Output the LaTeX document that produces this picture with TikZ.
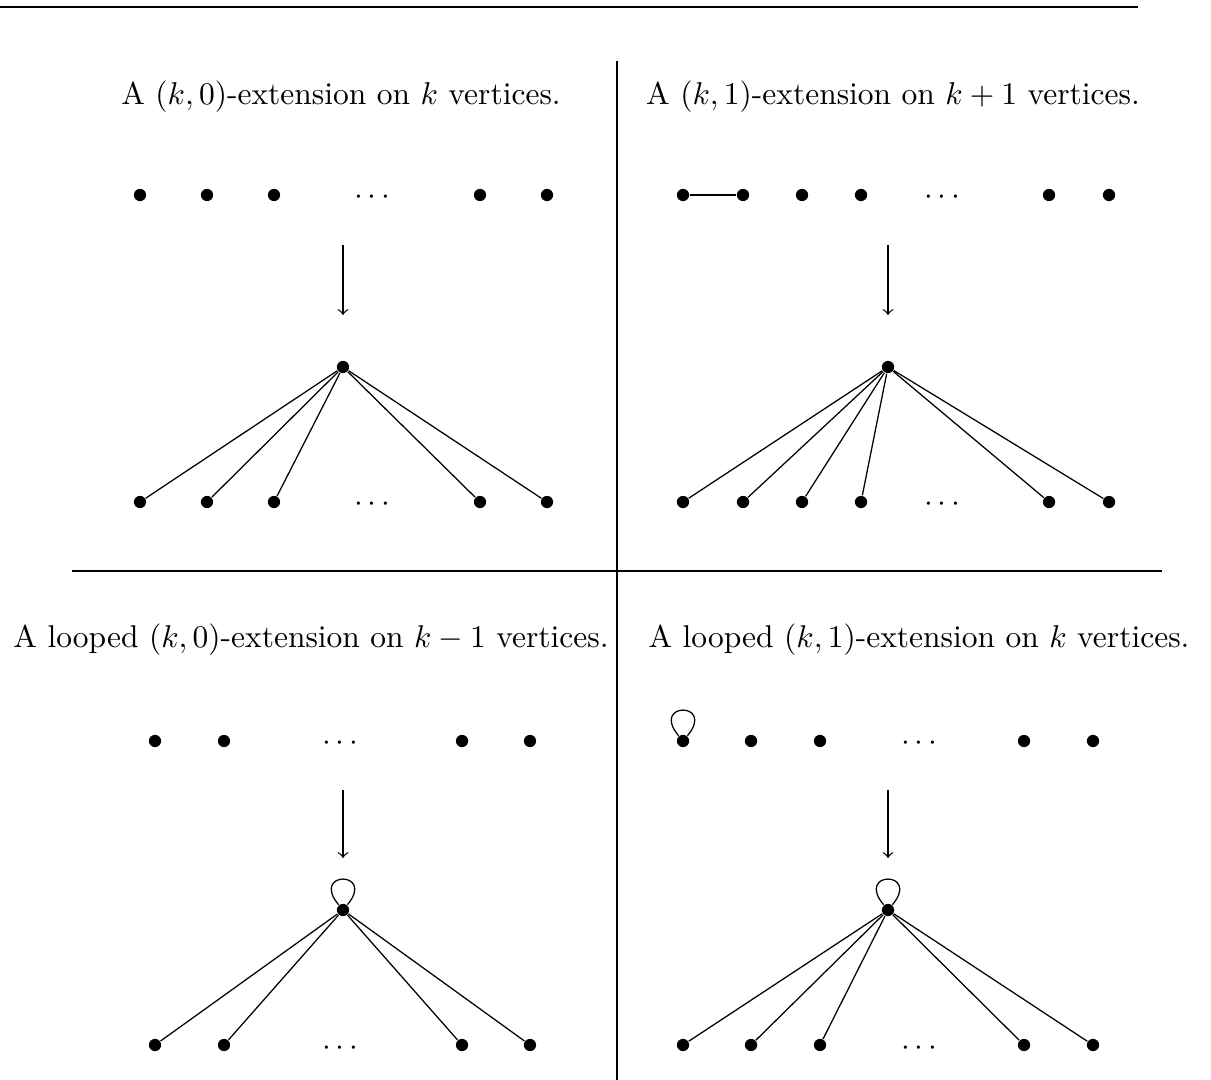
\documentclass[tikz,border=0pt]{standalone}
\usepackage{amsmath}
\usepackage{amssymb}
\usepackage{tikz}
\usetikzlibrary{arrows, positioning}

\begin{document}
\begin{tikzpicture}[
    x=0.3175pt, y=-0.3175pt,
    vertex/.style={circle, fill, inner sep=0pt, minimum size=3.9pt},
    caption/.style={anchor=base, inner sep=0pt},
    gap/.style={inner sep=0pt},
    arrow/.style={->},
    selfloop/.style={out=130, in=50, min distance=5mm}
]
    \useasboundingbox (0,0) rectangle (1211,1080);

    % table rules
    \draw (0,7) -- (1138,7);
    \draw (617,61) -- (617,1080);
    \draw (72,571) -- (1162,571);

    % (k,0)-extension
    \node[caption] (capA) at (341,105) {A $(k,0)$-extension on $k$ vertices.};
    \node[vertex] (a1) at (140,195) {}; \node[vertex] (a2) at (207,195) {};
    \node[vertex] (a3) at (274,195) {}; \node[gap] (adots) at (375,198) {$\cdots$};
    \node[vertex] (a4) at (480,195) {}; \node[vertex] (a5) at (547,195) {};
    \coordinate (aTop) at (343,245);
    \coordinate (aBot) at (343,315);
    \node[vertex] (hubA) at (343,367) {};
    \node[vertex] (b1) at (140,502) {}; \node[vertex] (b2) at (207,502) {};
    \node[vertex] (b3) at (274,502) {}; \node[gap] (bdots) at (375,505) {$\cdots$};
    \node[vertex] (b4) at (480,502) {}; \node[vertex] (b5) at (547,502) {};

    \draw[arrow] (aTop) -- (aBot);
    \draw (hubA) -- (b1);
    \draw (hubA) -- (b2);
    \draw (hubA) -- (b3);
    \draw (hubA) -- (b4);
    \draw (hubA) -- (b5);

    % (k,1)-extension
    \node[caption] (capB) at (893,105) {A $(k,1)$-extension on $k+1$ vertices.};
    \node[vertex] (c1) at (683,195) {}; \node[vertex] (c2) at (743,195) {};
    \node[vertex] (c3) at (802,195) {}; \node[vertex] (c4) at (861,195) {};
    \node[gap] (cdots) at (945,198) {$\cdots$};
    \node[vertex] (c5) at (1049,195) {}; \node[vertex] (c6) at (1109,195) {};
    \coordinate (cTop) at (888,245);
    \coordinate (cBot) at (888,315);
    \node[vertex] (hubB) at (888,367) {};
    \node[vertex] (d1) at (683,502) {}; \node[vertex] (d2) at (743,502) {};
    \node[vertex] (d3) at (802,502) {}; \node[vertex] (d4) at (861,502) {};
    \node[gap] (ddots) at (945,505) {$\cdots$};
    \node[vertex] (d5) at (1049,502) {}; \node[vertex] (d6) at (1109,502) {};

    \draw (c1) -- (c2);
    \draw[arrow] (cTop) -- (cBot);
    \draw (hubB) -- (d1);
    \draw (hubB) -- (d2);
    \draw (hubB) -- (d3);
    \draw (hubB) -- (d4);
    \draw (hubB) -- (d5);
    \draw (hubB) -- (d6);

    % looped (k,0)-extension
    \node[caption] (capC) at (311,648) {A looped $(k,0)$-extension on $k-1$ vertices.};
    \node[vertex] (e1) at (155,741) {}; \node[vertex] (e2) at (224,741) {};
    \node[gap] (edots) at (343,744) {$\cdots$};
    \node[vertex] (e3) at (462,741) {}; \node[vertex] (e4) at (530,741) {};
    \coordinate (eTop) at (343,790);
    \coordinate (eBot) at (343,858);
    \node[vertex] (hubC) at (343,910) {};
    \node[vertex] (f1) at (155,1045) {}; \node[vertex] (f2) at (224,1045) {};
    \node[gap] (fdots) at (343,1048) {$\cdots$};
    \node[vertex] (f3) at (462,1045) {}; \node[vertex] (f4) at (530,1045) {};

    \draw[arrow] (eTop) -- (eBot);
    \draw (hubC) to[selfloop] (hubC);
    \draw (hubC) -- (f1);
    \draw (hubC) -- (f2);
    \draw (hubC) -- (f3);
    \draw (hubC) -- (f4);

    % looped (k,1)-extension
    \node[caption] (capD) at (919,648) {A looped $(k,1)$-extension on $k$ vertices.};
    \node[vertex] (g1) at (683,741) {}; \node[vertex] (g2) at (751,741) {};
    \node[vertex] (g3) at (820,741) {}; \node[gap] (gdots) at (922,744) {$\cdots$};
    \node[vertex] (g4) at (1024,741) {}; \node[vertex] (g5) at (1093,741) {};
    \coordinate (gTop) at (888,790);
    \coordinate (gBot) at (888,858);
    \node[vertex] (hubD) at (888,910) {};
    \node[vertex] (k1) at (683,1045) {}; \node[vertex] (k2) at (751,1045) {};
    \node[vertex] (k3) at (820,1045) {}; \node[gap] (kdots) at (922,1048) {$\cdots$};
    \node[vertex] (k4) at (1024,1045) {}; \node[vertex] (k5) at (1093,1045) {};

    \draw (g1) to[selfloop] (g1);
    \draw[arrow] (gTop) -- (gBot);
    \draw (hubD) to[selfloop] (hubD);
    \draw (hubD) -- (k1);
    \draw (hubD) -- (k2);
    \draw (hubD) -- (k3);
    \draw (hubD) -- (k4);
    \draw (hubD) -- (k5);
\end{tikzpicture}
\end{document}
